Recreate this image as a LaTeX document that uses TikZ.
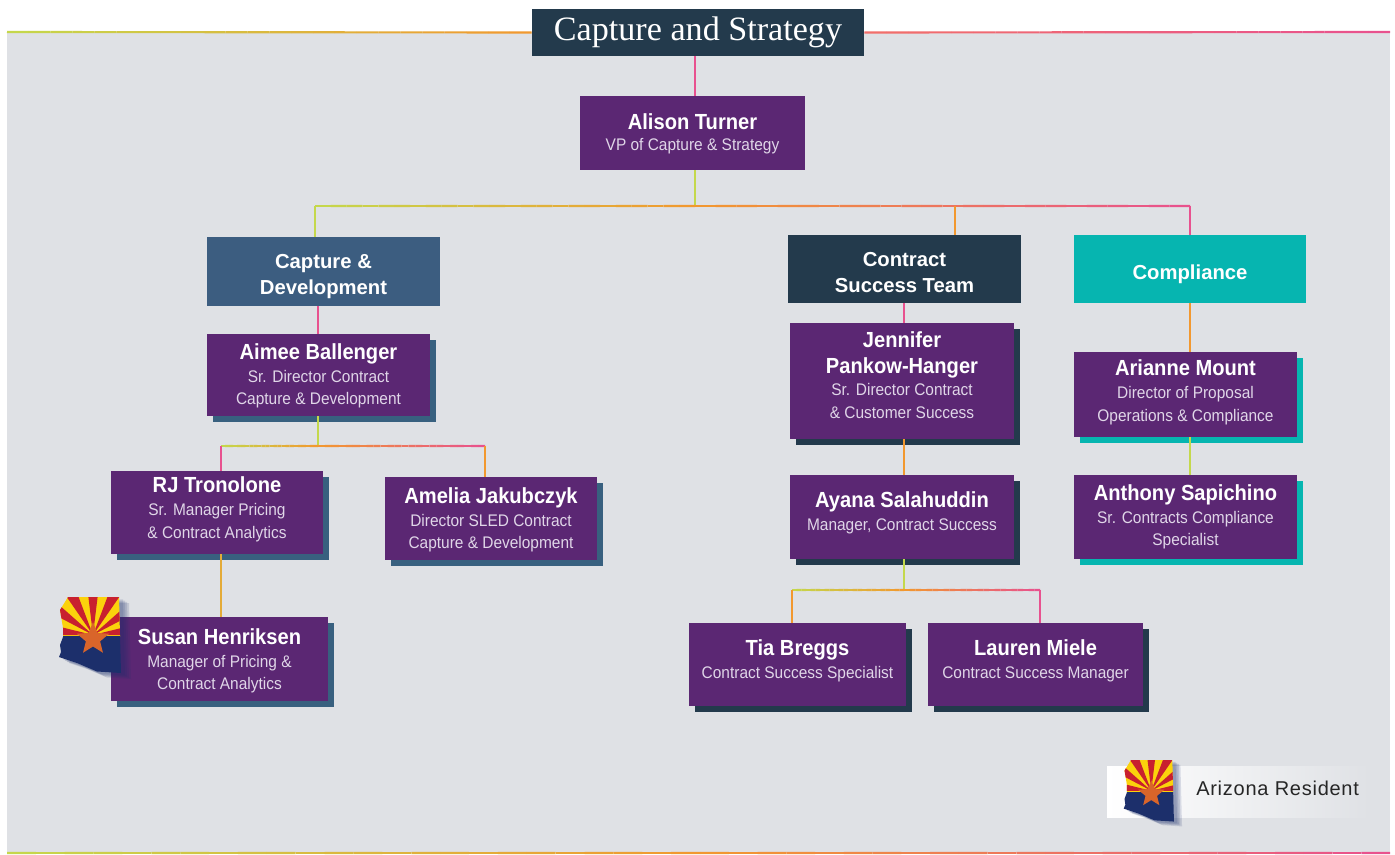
\documentclass[tikz,border=0pt]{standalone}
\usepackage{fontspec}
\usetikzlibrary{calc,shadows}
\setmainfont{Liberation Sans}
\newfontfamily\subface[FakeStretch=0.92]{Liberation Sans}
\newfontfamily\titleface{Liberation Serif}
\newfontfamily\legendface[LetterSpace=3.7]{Liberation Sans}
\definecolor{pagebg}{HTML}{DFE1E5}
\definecolor{purplebox}{HTML}{5B2773}
\definecolor{navybox}{HTML}{233A4C}
\definecolor{bluebox}{HTML}{3C5D80}
\definecolor{tealbox}{HTML}{06B5B0}
\definecolor{shblue}{HTML}{38607F}
\definecolor{subtxt}{HTML}{E0D6E8}
\definecolor{lnlime}{HTML}{C4D84C}
\definecolor{lnorange}{HTML}{F2982F}
\definecolor{lnred}{HTML}{F2706A}
\definecolor{lnpink}{HTML}{E8518F}
\definecolor{azred}{HTML}{C8202F}
\definecolor{azyellow}{HTML}{FBD20C}
\definecolor{azblue}{HTML}{1C2F6B}
\definecolor{azstar}{HTML}{D9652A}
\newcommand\nm[1]{{\fontsize{16.4}{19}\selectfont\bfseries\color{white}#1}}
\newcommand\pushup[1]{\\[\dimexpr #1pt*3/2-17pt\relax]\rule[-3pt]{0pt}{3pt}}
\newcommand\pushdown[1]{\rule{0pt}{12pt}\\[\dimexpr #1pt*3/2-17pt\relax]}
\tikzset{
  x=0.75pt,y=-0.75pt,
  cardtext/.style={align=center,text=subtxt,inner sep=0pt,
    font=\subface\fontsize{12.6}{17}\selectfont},
  person/.style={cardtext,fill=purplebox},
  shadowblue/.style={drop shadow={shadow xshift=4.5pt,shadow yshift=-4.5pt,opacity=1,fill=shblue}},
  shadownavy/.style={drop shadow={shadow xshift=4.5pt,shadow yshift=-4.5pt,opacity=1,fill=navybox}},
  shadowteal/.style={drop shadow={shadow xshift=4.5pt,shadow yshift=-4.5pt,opacity=1,fill=tealbox}},
  headbox/.style={align=center,text=white,inner sep=0pt,
    font=\fontsize{15.2}{20}\selectfont\bfseries},
  wire/.style={line width=1.6pt},
}
\newcommand\card[7]{%
  \pgfmathsetmacro\cw{(#4-#2)*0.75}%
  \pgfmathsetmacro\ch{(#5-#3)*0.75}%
  \node[#6,minimum width=\cw pt,minimum height=\ch pt] (#1) at ({(#2+#4)/2},{(#3+#5)/2}) {#7};%
}
\newcommand\glink[4]{%
  \foreach \i in {1,...,24}{%
    \pgfmathsetmacro\ta{(\i-1)/24}%
    \pgfmathsetmacro\tb{\i/24}%
    \pgfmathsetmacro\pc{100*(\i-0.5)/24}%
    \draw[wire,color={#4!\pc!#3}] ($(#1)!\ta!(#2)$) -- ($(#1)!\tb!(#2)$);%
  }%
}
\newcommand\azpath{(0,0) -- (51,0) -- (53,76) -- (29,74.5) -- (9,66) -- (-9,60) -- (-7,55) -- (-8,48) -- (-5,40) -- (-5,31) -- (-8,13) -- cycle}
\newcommand\azflag[3]{%
  \begin{scope}[shift={(#1,#2)},scale=#3]
    \foreach \k in {10,8,6,4}{%
      \fill[azblue,opacity=0.14,shift={(\k,\k*0.6)}] \azpath;%
    }
    \begin{scope}
      \clip \azpath;
      \fill[azyellow] (-12,-2) rectangle (56,40);
      \begin{scope}[shift={(25,38)}]
        \foreach \r in {0,2,...,12}{%
          \pgfmathsetmacro\aa{-\r*180/13}%
          \pgfmathsetmacro\ab{-(\r+1)*180/13}%
          \fill[azred] (0,0) -- (\aa:90) -- (\ab:90) -- cycle;%
        }
      \end{scope}
      \fill[azblue] (-12,39) rectangle (56,80);
    \end{scope}
    \fill[azstar,shift={(25,42)}] (-90:17) -- (-54:7.5) -- (-18:17) -- (18:7.5) -- (54:17) -- (90:7.5) -- (126:17) -- (162:7.5) -- (198:17) -- (234:7.5) -- cycle;
  \end{scope}%
}
\begin{document}
\begin{tikzpicture}
\useasboundingbox (0,0) rectangle (1395,855);
\fill[white] (0,0) rectangle (1395,855);
\fill[pagebg] (7,32) rectangle (1390,853);

% nodes
\card{title}{532}{9}{864}{56}{fill=navybox,text=white,inner sep=0pt,font=\titleface\fontsize{25.6}{28}\selectfont}{Capture and Strategy}
\card{alison}{580}{96}{805}{170}{person}{\pushdown{1}\nm{Alison Turner}\\[-1pt]VP of Capture \& Strategy}
\card{capdev}{207}{237}{440}{306}{headbox,fill=bluebox}{\pushdown{2}Capture \&\\Development}
\card{cst}{788}{235}{1021}{303}{headbox,fill=navybox}{\pushdown{0.5}Contract\\Success Team}
\card{compl}{1074}{235}{1306}{303}{headbox,fill=tealbox}{\pushdown{3}Compliance}
\card{aimee}{207}{334}{430}{416}{person,shadowblue}{\pushdown{1}\nm{Aimee Ballenger}\\Sr. Director Contract\\Capture \& Development}
\card{rj}{111}{471}{323}{554}{person,shadowblue}{\nm{RJ Tronolone}\\Sr. Manager Pricing\\\& Contract Analytics\pushup{3}}
\card{amelia}{385}{477}{597}{560}{person,shadowblue}{\pushdown{1.5}\nm{Amelia Jakubczyk}\\Director SLED Contract\\Capture \& Development}
\card{susan}{111}{617}{328}{701}{person,shadowblue}{\pushdown{2}\nm{Susan Henriksen}\\Manager of Pricing \&\\Contract Analytics}
\card{jennifer}{790}{323}{1014}{439}{person,shadownavy}{\nm{Jennifer}\\[2.5pt]\nm{Pankow-Hanger}\\Sr. Director Contract\\\& Customer Success\pushup{4}}
\card{ayana}{790}{475}{1014}{559}{person,shadownavy}{\nm{Ayana Salahuddin}\\Manager, Contract Success\pushup{4}}
\card{tia}{689}{623}{906}{706}{person,shadownavy}{\nm{Tia Breggs}\\Contract Success Specialist\pushup{3.5}}
\card{lauren}{928}{623}{1143}{706}{person,shadownavy}{\nm{Lauren Miele}\\Contract Success Manager\pushup{3.5}}
\card{arianne}{1074}{352}{1297}{437}{person,shadowteal}{\nm{Arianne Mount}\\Director of Proposal\\Operations \& Compliance\pushup{2}}
\card{anthony}{1074}{475}{1297}{559}{person,shadowteal}{\nm{Anthony Sapichino}\\Sr. Contracts Compliance\\Specialist}

% junction coordinates
\coordinate (topl) at (7,32);
\coordinate (topr) at (1390,32);
\coordinate (botl) at (7,853);
\coordinate (botm) at (700,853);
\coordinate (botr) at (1390,853);
\coordinate (j0) at (695,56);
\coordinate (j1) at (695,206);
\coordinate (b1) at (315,206);
\coordinate (b2) at (955,206);
\coordinate (b3) at (1190,206);
\coordinate (k0) at (318,446);
\coordinate (k1) at (221,446);
\coordinate (k2) at (485,446);
\coordinate (m0) at (904,590);
\coordinate (m1) at (792,590);
\coordinate (m2) at (1040,590);

% frame lines
\glink{topl}{title.west}{lnlime}{lnorange}
\glink{title.east}{topr}{lnred}{lnpink}
\glink{botl}{botm}{lnlime}{lnorange}
\glink{botm}{botr}{lnorange}{lnpink}

% connectors
\draw[wire,lnpink] (j0) -- (j0 |- alison.north);
\draw[wire,lnlime] (j1 |- alison.south) -- (j1);
\glink{b1}{j1}{lnlime}{lnorange}
\glink{j1}{b3}{lnorange}{lnpink}
\draw[wire,lnlime] (b1) -- (b1 |- capdev.north);
\draw[wire,lnorange] (b2) -- (b2 |- cst.north);
\draw[wire,lnpink] (b3) -- (b3 |- compl.north);
\draw[wire,lnpink] (k0 |- capdev.south) -- (k0 |- aimee.north);
\draw[wire,lnlime] (k0 |- aimee.south) -- (k0);
\glink{k1}{k0}{lnlime}{lnorange}
\glink{k0}{k2}{lnorange}{lnpink}
\draw[wire,lnpink] (k1) -- (k1 |- rj.north);
\draw[wire,lnorange] (k2) -- (k2 |- amelia.north);
\draw[wire,lnorange!70!lnlime] (k1 |- rj.south) -- (k1 |- susan.north);
\draw[wire,lnpink] (m0 |- cst.south) -- (m0 |- jennifer.north);
\draw[wire,lnorange] (m0 |- jennifer.south) -- (m0 |- ayana.north);
\draw[wire,lnlime] (m0 |- ayana.south) -- (m0);
\glink{m1}{m0}{lnlime}{lnorange}
\glink{m0}{m2}{lnorange}{lnpink}
\draw[wire,lnorange] (m1) -- (m1 |- tia.north);
\draw[wire,lnpink] (m2) -- (m2 |- lauren.north);
\draw[wire,lnorange] (b3 |- compl.south) -- (b3 |- arianne.north);
\draw[wire,lnlime] (b3 |- arianne.south) -- (b3 |- anthony.north);

% Arizona marks
\azflag{68}{597}{1}
\fill[left color=white,right color=pagebg] (1107,766) rectangle (1370,817);
\azflag{1131}{760}{0.81}
\node[text=black!85,inner sep=0pt,font=\legendface\fontsize{15}{17}\selectfont,anchor=west] (azlabel) at (1196,788) {Arizona Resident};
\end{tikzpicture}
\end{document}
